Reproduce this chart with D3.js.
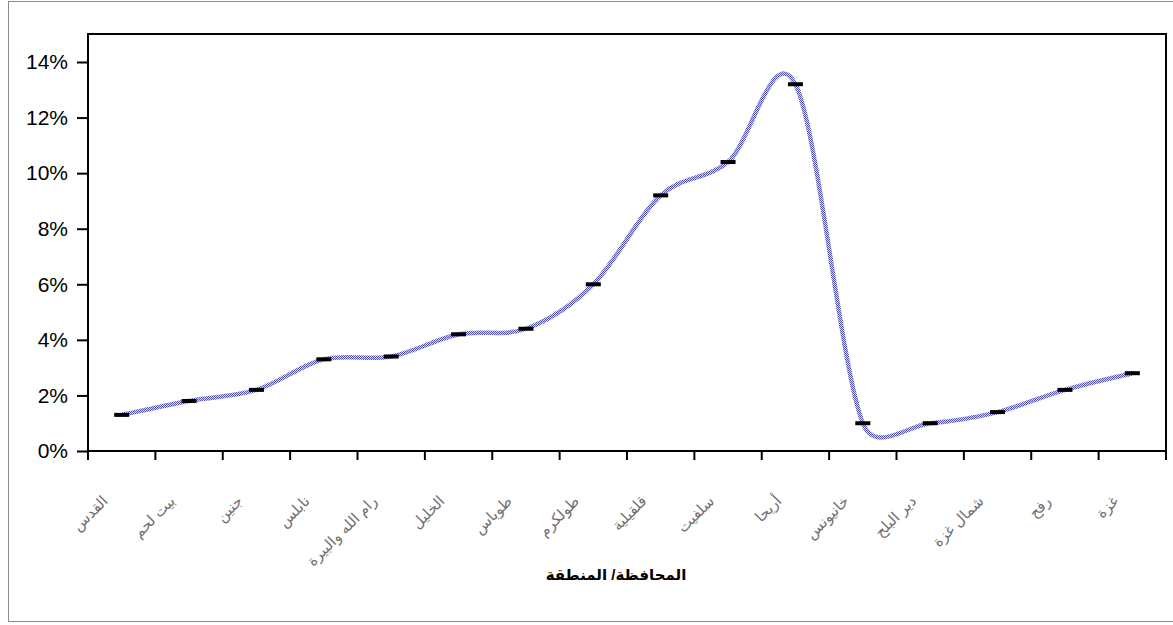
<!DOCTYPE html>
<html>
<head>
<meta charset="utf-8">
<script src="https://cdnjs.cloudflare.com/ajax/libs/d3/7.8.5/d3.min.js"></script>
<style>
  body { margin: 0; background: #fff; }
  text { font-family: Arial, "Liberation Sans", "DejaVu Sans", sans-serif; }
</style>
</head>
<body>
<div id="chart"></div>
<script>
// Data
var regions = [
    'القدس', 'بيت لحم', 'جنين', 'نابلس', 'رام الله والبيرة', 'الخليل',
    'طوباس', 'طولكرم', 'قلقيلية', 'سلفيت', 'أريحا',
    'خانيونس', 'دير البلح', 'شمال غزة', 'رفح', 'غزة'
];
var rates = [1.3, 1.8, 2.2, 3.3, 3.4, 4.2, 4.4, 6.0, 9.2, 10.4, 13.2, 1.0, 1.0, 1.4, 2.2, 2.8];
var yTicks = [0, 2, 4, 6, 8, 10, 12, 14];
var xTitle = 'المحافظة/ المنطقة';

// Width and height
var chart_width     =   1173;
var chart_height    =   625;
var plot = { left: 88, right: 1166, top: 34, bottom: 451 };

var svg             =   d3.select("#chart")
    .append("svg")
    .attr("width", chart_width)
    .attr("height", chart_height);

// checkered stroke like the old excel line
var pat = svg.append("defs")
    .append("pattern")
    .attr("id", "dots")
    .attr("patternUnits", "userSpaceOnUse")
    .attr("width", 2)
    .attr("height", 2);
pat.append("rect").attr("width", 2).attr("height", 2).attr("fill", "#d8d8ee");
pat.append("rect").attr("width", 1).attr("height", 1).attr("fill", "#5252aa");
pat.append("rect").attr("x", 1).attr("y", 1).attr("width", 1).attr("height", 1).attr("fill", "#5252aa");

// outer frame
svg.append("rect")
    .attr("x", 8.5)
    .attr("y", 1.5)
    .attr("width", 1170)
    .attr("height", 620)
    .attr("fill", "none")
    .attr("stroke", "#8c8c8c")
    .attr("stroke-width", 1);

var x = d3.scaleBand()
    .domain(regions)
    .range([plot.left, plot.right]);

var y = d3.scaleLinear()
    .domain([0, 14])
    .range([plot.bottom, plot.top + 28]);

// plot area box
svg.append("rect")
    .attr("x", plot.left)
    .attr("y", plot.top)
    .attr("width", plot.right - plot.left)
    .attr("height", plot.bottom - plot.top)
    .attr("fill", "none")
    .attr("stroke", "#000")
    .attr("stroke-width", 2);

// y axis
var yAxis = d3.axisLeft(y)
    .tickValues(yTicks)
    .tickSize(11)
    .tickPadding(9)
    .tickFormat(function(d){ return d + "%"; });

var yg = svg.append("g")
    .attr("transform", "translate(" + plot.left + ",0)")
    .call(yAxis);
yg.select(".domain").remove();
yg.selectAll("line").attr("stroke", "#000").attr("stroke-width", 2);
yg.selectAll("text")
    .attr("font-size", 21)
    .attr("fill", "#000");

// x axis ticks at category edges
var edges = regions.map(function(d){ return x(d); }).concat([plot.right]);
svg.append("g")
    .selectAll("line")
    .data(edges)
    .enter()
    .append("line")
    .attr("x1", function(d){ return d; })
    .attr("x2", function(d){ return d; })
    .attr("y1", plot.bottom)
    .attr("y2", plot.bottom + 9)
    .attr("stroke", "#000")
    .attr("stroke-width", 2);

// category labels, rotated
svg.append("g")
    .selectAll("text")
    .data(regions)
    .enter()
    .append("text")
    .attr("transform", function(d){
        var cx = x(d) + x.bandwidth() / 2 - 13;
        return "translate(" + cx + "," + (plot.bottom + 51) + ") rotate(-45)";
    })
    .attr("text-anchor", "end")
    .attr("font-size", 15)
    .attr("fill", "#707070")
    .text(function(d){ return d; });

// x title
svg.append("text")
    .attr("x", 616)
    .attr("y", 580)
    .attr("text-anchor", "middle")
    .attr("font-size", 15)
    .attr("font-weight", "bold")
    .attr("fill", "#000")
    .text(xTitle);

// smoothed line, excel style: catmull-rom bezier with tangents
// clamped to half of each segment's chord
var pts = rates.map(function(d, i){
    return [x(regions[i]) + x.bandwidth() / 2, y(d)];
});

function ctrl(p0, p2, chord){
    var dx = (p2[0] - p0[0]) / 6, dy = (p2[1] - p0[1]) / 6;
    var len = Math.sqrt(dx * dx + dy * dy);
    var lim = chord / 2;
    if (len > lim) { dx *= lim / len; dy *= lim / len; }
    return [dx, dy];
}

var p = d3.path();
p.moveTo(pts[0][0], pts[0][1]);
for (var i = 0; i < pts.length - 1; i++) {
    var p0 = pts[Math.max(i - 1, 0)], p1 = pts[i], p2 = pts[i + 1], p3 = pts[Math.min(i + 2, pts.length - 1)];
    var chord = Math.hypot(p2[0] - p1[0], p2[1] - p1[1]);
    var a = ctrl(p0, p2, chord), b = ctrl(p1, p3, chord);
    p.bezierCurveTo(p1[0] + a[0], p1[1] + a[1], p2[0] - b[0], p2[1] - b[1], p2[0], p2[1]);
}

svg.append("path")
    .attr("d", p.toString())
    .attr("fill", "none")
    .attr("stroke", "url(#dots)")
    .attr("stroke-width", 4.5);

// dash markers
svg.append("g")
    .selectAll("rect")
    .data(pts)
    .enter()
    .append("rect")
    .attr("x", function(d){ return d[0] - 7.5; })
    .attr("y", function(d){ return d[1] - 2; })
    .attr("width", 15)
    .attr("height", 4)
    .attr("fill", "#000");
</script>
</body>
</html>
